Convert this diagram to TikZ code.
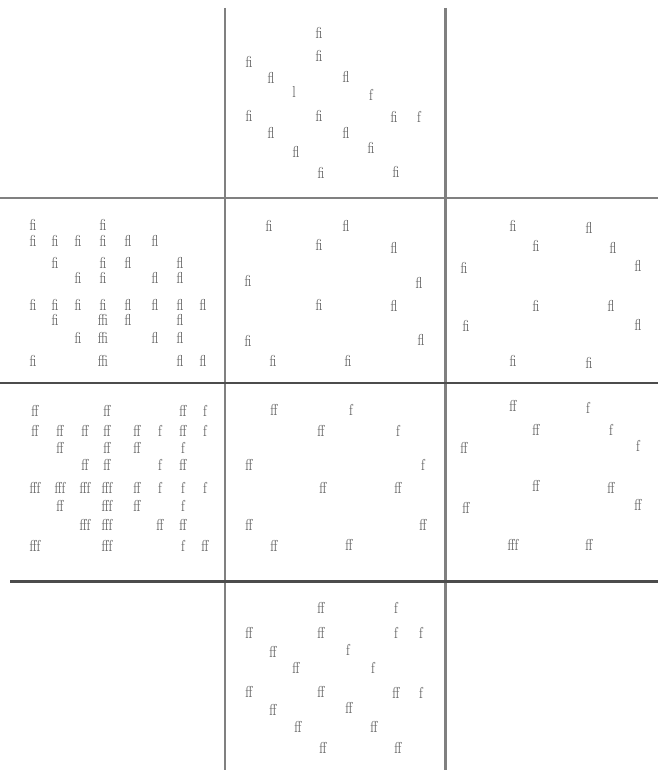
\documentclass[tikz,border=0pt]{standalone}
\usepackage{tikz}

\begin{document}
\begin{tikzpicture}[x=0.02cm, y=-0.02cm,
    divider/.style={line width=1.7pt, color=gray},
    darkdivider/.style={divider, color=black!70},
    glyph/.style={font=\small, text=black!60, inner sep=0pt, xscale=0.75},
]
    \useasboundingbox (0,0) rectangle (658,770);

    % grid lines
    \draw[divider] (225,8) -- (225,770);
    \draw[divider] (445,8) -- (445,770);
    \draw[divider] (0,198) -- (658,198);
    \draw[darkdivider] (0,383) -- (658,383);
    \draw[darkdivider] (10,581) -- (658,581);

    % top cell
    \foreach \x/\y/\t [count=\i] in {319/33/fi, 249/62/fi, 319/56/fi, 271/78/fl, 346/77/fl,
        294/92/l, 371/95/f, 249/116/fi, 319/116/fi, 394/117/fi, 419/117/f,
        271/133/fl, 346/133/fl, 296/152/fl, 371/148/fi, 321/173/fi, 396/172/fi}
        \node[glyph] (t\i) at (\x,\y) {\t};

    % left middle cell
    \foreach \x/\y/\t [count=\i] in {33/225/fi, 103/225/fi,
        33/241/fi, 55/241/fi, 78/241/fi, 103/241/fi, 128/241/fl, 155/241/fl,
        55/263/fi, 103/263/fi, 128/263/fl, 180/263/fl,
        78/278/fi, 103/278/fi, 155/278/fl, 180/278/fl,
        33/305/fi, 55/305/fi, 78/305/fi, 103/305/fi, 128/305/fl, 155/305/fl, 180/305/fl, 203/305/fl,
        55/320/fi, 103/320/ffi, 128/320/fl, 180/320/fl,
        78/338/fi, 103/338/ffi, 155/338/fl, 180/338/fl,
        33/361/fi, 103/361/ffi, 180/361/fl, 203/361/fl}
        \node[glyph] (lm\i) at (\x,\y) {\t};

    % center cell
    \foreach \x/\y/\t [count=\i] in {269/226/fi, 346/226/fl, 319/245/fi, 394/248/fl,
        248/281/fi, 419/283/fl, 319/305/fi, 394/306/fl,
        248/341/fi, 421/340/fl, 273/361/fi, 348/361/fi}
        \node[glyph] (c\i) at (\x,\y) {\t};

    % right middle cell
    \foreach \x/\y/\t [count=\i] in {513/226/fi, 589/228/fl, 536/246/fi, 613/248/fl,
        464/268/fi, 638/266/fl, 536/306/fi, 611/306/fl,
        466/326/fi, 638/325/fl, 513/361/fi, 589/363/fi}
        \node[glyph] (rm\i) at (\x,\y) {\t};

    % left lower cell
    \foreach \x/\y/\t [count=\i] in {35/411/ff, 107/411/ff, 183/411/ff, 205/411/f,
        35/431/ff, 60/431/ff, 85/431/ff, 107/431/ff, 137/431/ff, 160/431/f, 183/431/ff, 205/431/f,
        60/448/ff, 107/448/ff, 137/448/ff, 183/448/f,
        85/465/ff, 107/465/ff, 160/465/f, 183/465/ff,
        35/488/fff, 60/488/fff, 85/488/fff, 107/488/fff, 137/488/ff, 160/488/f, 183/488/f, 205/488/f,
        60/506/ff, 107/506/fff, 137/506/ff, 183/506/f,
        85/525/fff, 107/525/fff, 160/525/ff, 183/525/ff,
        35/546/fff, 107/546/fff, 183/546/f, 205/546/ff}
        \node[glyph] (ll\i) at (\x,\y) {\t};

    % center lower cell
    \foreach \x/\y/\t [count=\i] in {274/410/ff, 351/410/f, 321/431/ff, 398/431/f,
        249/465/ff, 423/465/f, 323/488/ff, 398/488/ff,
        249/525/ff, 423/525/ff, 274/546/ff, 349/545/ff}
        \node[glyph] (cl\i) at (\x,\y) {\t};

    % right lower cell
    \foreach \x/\y/\t [count=\i] in {513/406/ff, 588/408/f, 536/430/ff, 611/430/f,
        464/448/ff, 638/446/f, 536/486/ff, 611/488/ff,
        466/508/ff, 638/505/ff, 513/545/fff, 589/545/ff}
        \node[glyph] (rl\i) at (\x,\y) {\t};

    % bottom cell
    \foreach \x/\y/\t [count=\i] in {321/608/ff, 396/608/f, 249/633/ff, 321/633/ff, 396/633/f, 421/633/f,
        273/652/ff, 348/650/f, 296/668/ff, 373/668/f,
        249/692/ff, 321/692/ff, 396/693/ff, 421/693/f,
        273/710/ff, 349/708/ff, 298/727/ff, 374/727/ff, 323/748/ff, 398/748/ff}
        \node[glyph] (b\i) at (\x,\y) {\t};
\end{tikzpicture}
\end{document}
